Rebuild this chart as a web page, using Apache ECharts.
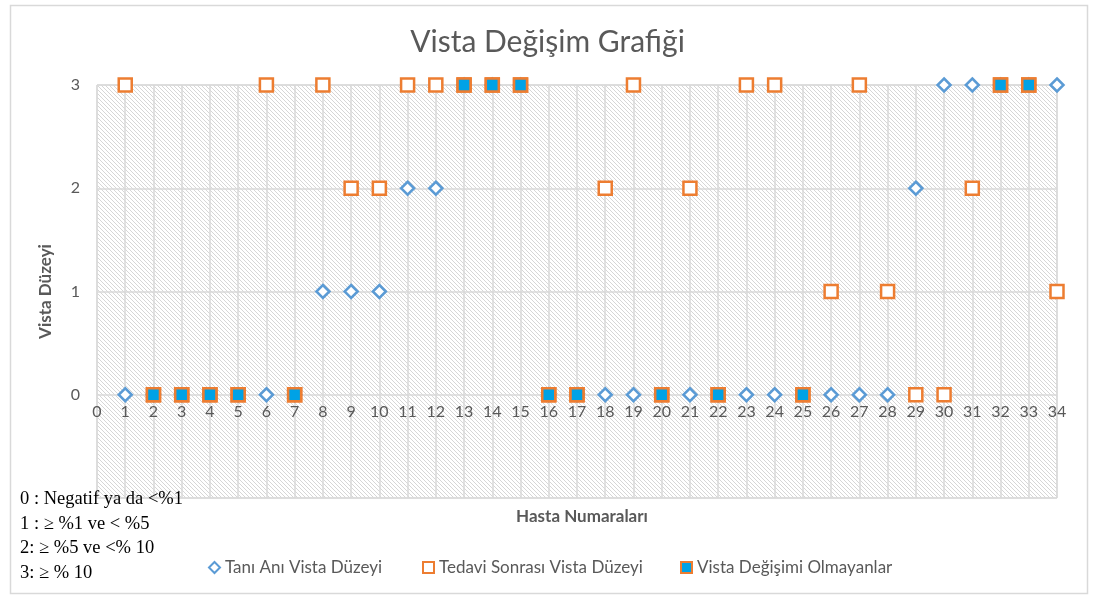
<!DOCTYPE html>
<html>
<head>
<meta charset="utf-8">
<script src="https://cdn.jsdelivr.net/npm/echarts@6/dist/echarts.min.js"></script>
<style>
  html, body { margin: 0; padding: 0; background: #fff; }
  #chart { width: 1095px; height: 598px; }
</style>
</head>
<body>
<div id="chart"></div>
<script>
// hasta numaraları
var patients = [1, 2, 3, 4, 5, 6, 7, 8, 9, 10, 11, 12, 13, 14, 15, 16, 17,
  18, 19, 20, 21, 22, 23, 24, 25, 26, 27, 28, 29, 30, 31, 32, 33, 34];
// tanı anı vista düzeyi
var taniAni = [0, 0, 0, 0, 0, 0, 0, 1, 1, 1, 2, 2, 3, 3, 3, 0, 0,
  0, 0, 0, 0, 0, 0, 0, 0, 0, 0, 0, 2, 3, 3, 3, 3, 3];
// tedavi sonrası vista düzeyi
var tedaviSonrasi = [3, 0, 0, 0, 0, 3, 0, 3, 2, 2, 3, 3, 3, 3, 3, 0, 0,
  2, 3, 0, 2, 0, 3, 3, 0, 1, 3, 1, 0, 0, 2, 3, 3, 1];
// vista değişimi olmayan hastalar
var degisimYok = [2, 3, 4, 5, 7, 13, 14, 15, 16, 17, 20, 22, 25, 32, 33];
var yTicks = ['0', '1', '2', '3'];
var notes = ['0 : Negatif ya da <%1', '1 : \u2265 %1 ve < %5', '2: \u2265 %5 ve <% 10', '3: \u2265 % 10'];

var font = 'Lato, "Open Sans", sans-serif';
var gray = '#595959';

// taralı arka plan
function hatch() {
  var s = 4;
  var c = document.createElement('canvas');
  c.width = s;
  c.height = s;
  var ctx = c.getContext('2d');
  ctx.fillStyle = '#ffffff';
  ctx.fillRect(0, 0, s, s);
  ctx.strokeStyle = '#d6d6d6';
  ctx.lineWidth = 1;
  ctx.beginPath();
  ctx.moveTo(-1, -1); ctx.lineTo(s + 1, s + 1);
  ctx.moveTo(-1, s - 1); ctx.lineTo(1, s + 1);
  ctx.moveTo(s - 1, -1); ctx.lineTo(s + 1, 1);
  ctx.stroke();
  return c;
}

function pairs(xs, ys) {
  return xs.map(function (x, i) { return [x, ys[i]]; });
}

var legendText = { fontFamily: font, fontSize: 17, color: gray };
var seriesNames = ['Tanı Anı Vista Düzeyi', 'Tedavi Sonrası Vista Düzeyi', 'Vista Değişimi Olmayanlar'];
var legendLeft = [203, 417, 675];

var chart = echarts.init(document.getElementById('chart'));

var option = {
  backgroundColor: '#fff',
  title: [{
    text: 'Vista Değişim Grafiği',
    left: 'center',
    top: 22,
    textStyle: { fontFamily: font, fontSize: 30, fontWeight: 'normal', color: gray }
  }, {
    text: 'Hasta Numaraları',
    left: 577,
    textAlign: 'center',
    top: 503,
    textStyle: { fontFamily: font, fontSize: 17, fontWeight: 'bold', color: gray }
  }],
  grid: {
    left: 97,
    right: 38,
    top: 85,
    bottom: 100,
    outerBoundsMode: 'none',
    containLabel: false,
    show: true,
    backgroundColor: { image: hatch(), repeat: 'repeat' },
    borderColor: '#d9d9d9',
    borderWidth: 1
  },
  legend: seriesNames.map(function (n, i) {
    return {
      top: 554,
      left: legendLeft[i],
      itemWidth: 11,
      itemHeight: 11,
      itemGap: 4,
      textStyle: legendText,
      data: [n]
    };
  }),
  xAxis: {
    type: 'value',
    min: 0,
    max: 34,
    interval: 1,
    position: 'bottom',
    offset: -103,
    axisLine: { show: false, onZero: false },
    axisTick: { show: false },
    axisLabel: { margin: 9, fontFamily: font, fontSize: 16, color: gray },
    splitLine: { show: true, lineStyle: { color: '#d9d9d9', width: 1.5 } }
  },
  yAxis: {
    type: 'value',
    min: -1,
    max: 3,
    interval: 1,
    name: 'Vista Düzeyi',
    nameLocation: 'middle',
    nameGap: 43,
    nameRotate: 90,
    nameTextStyle: { fontFamily: font, fontSize: 17, fontWeight: 'bold', color: gray },
    axisLine: { show: false },
    axisTick: { show: false },
    axisLabel: {
      margin: 17,
      fontFamily: font,
      fontSize: 16,
      color: gray,
      formatter: function (v) {
        return yTicks.indexOf(String(v)) >= 0 ? String(v) : '';
      }
    },
    splitLine: { show: true, lineStyle: { color: '#d9d9d9', width: 1.5 } }
  },
  graphic: [{
    type: 'rect',
    left: 8,
    top: 3,
    shape: { width: 1077, height: 588 },
    style: { fill: 'none', stroke: '#d9d9d9', lineWidth: 1.5 },
    silent: true
  }].concat(notes.map(function (t, i) {
    return {
      type: 'text',
      left: 20,
      top: 490 + i * 24.5,
      z: 100,
      style: { text: t, fill: '#000', font: '18.5px "Liberation Serif", "Times New Roman", serif' }
    };
  })),
  series: [{
    name: seriesNames[0],
    type: 'scatter',
    symbol: 'diamond',
    symbolSize: 13,
    z: 2,
    itemStyle: { color: '#ffffff', borderColor: '#5b9bd5', borderWidth: 2.5, opacity: 1 },
    data: pairs(patients, taniAni)
  }, {
    name: seriesNames[1],
    type: 'scatter',
    symbol: 'rect',
    symbolSize: 13,
    z: 3,
    itemStyle: { color: '#ffffff', borderColor: '#ed7d31', borderWidth: 2.5, opacity: 1 },
    data: pairs(patients, tedaviSonrasi)
  }, {
    name: seriesNames[2],
    type: 'scatter',
    symbol: 'rect',
    symbolSize: 13,
    z: 4,
    itemStyle: { color: '#00a2e6', borderColor: '#ed7d31', borderWidth: 2.5, opacity: 1 },
    data: degisimYok.map(function (p) { return [p, taniAni[patients.indexOf(p)]]; })
  }]
};

chart.setOption(option);
</script>
</body>
</html>
